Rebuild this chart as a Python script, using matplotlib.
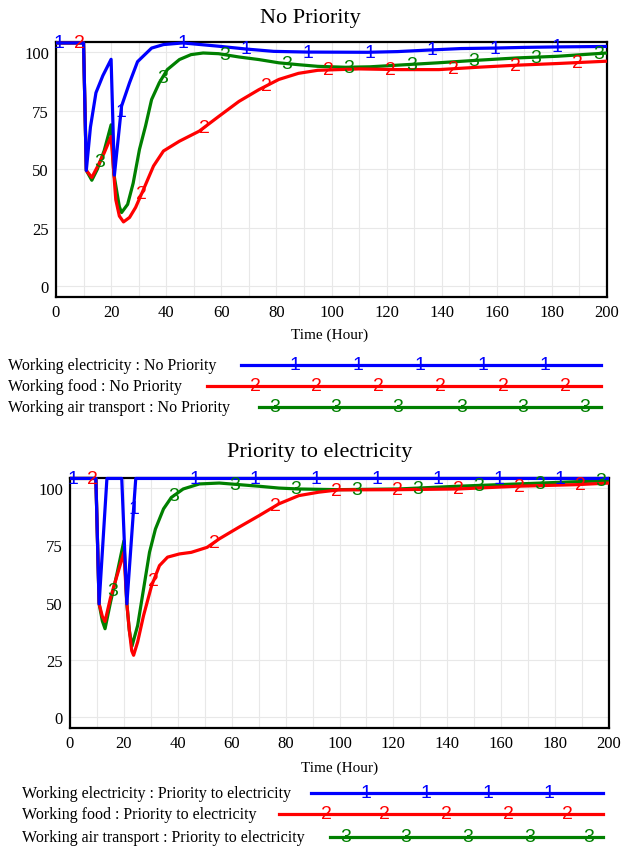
import matplotlib
matplotlib.use("Agg")
import numpy as np
import matplotlib.pyplot as plt
from matplotlib.lines import Line2D

# ---- data: Working fraction (%) vs Time (Hour) ----
# No Priority
np_elec_t = [0, 10, 11, 12.5, 14.5, 17, 20, 21.2, 23.8, 26.7, 29.6, 34.7, 39, 46, 59,
             69, 79, 91, 113, 124, 136, 147, 159, 170, 182, 200]
np_elec_y = [104, 104, 49.5, 68, 82.7, 90, 97, 47.5, 77, 87, 96, 101.8, 103.3, 104, 102.6,
             101.4, 100.4, 100.1, 100, 100.3, 101, 101.6, 101.8, 102.1, 102.3, 102.5]

np_food_t = [0, 10, 11, 13, 15, 17.5, 20, 21, 21.7, 23, 24.5, 26.7, 28.9, 31.8, 35.4, 39,
             44.8, 52, 59.2, 66.4, 73.6, 80.9, 88, 95, 110, 124, 139, 153, 167.5, 182, 200]
np_food_y = [104, 104, 49.5, 46.5, 51, 57, 64, 48, 37, 30, 27.5, 29.4, 33.7, 41.5, 51.4, 57.8,
             62, 66.3, 72.7, 79, 84, 88.4, 91, 92.3, 92.9, 92.6, 92.6, 93.6, 94.5, 95.2, 96.2]

np_air_t = [0, 10, 11, 13, 15, 17.5, 20, 21, 21.7, 23, 23.8, 26, 28, 30.3, 32.5, 34.7, 37.5,
            40.4, 44.8, 49, 53.4, 59, 66.4, 73.6, 80.9, 88, 95, 105, 114, 124, 138.6, 153,
            167.5, 182, 200]
np_air_y = [104, 104, 49.5, 45.3, 50, 58, 69, 48, 43, 34, 31.5, 35, 44, 58.5, 68.5, 79.8, 87,
            92.6, 96.9, 99, 99.7, 99.4, 98, 96.9, 95.5, 94.7, 94, 93.6, 93.8, 94.5, 95.5, 96.6,
            97.6, 98.3, 99.7]

# Priority to electricity
pe_elec_t = [0, 9.6, 10.8, 13.7, 19.2, 21.1, 24.4, 50, 100, 150, 200]
pe_elec_y = [104.3, 104.3, 49.5, 104.3, 104.3, 49.5, 104.3, 104.3, 104.3, 104.3, 104.3]

pe_food_t = [0, 9.6, 10.8, 12, 13, 15, 17.5, 20, 21.1, 22, 22.9, 23.6, 25.1, 27.3, 30.3, 33.2,
             36.2, 40.6, 45, 50.9, 55.4, 62.7, 70.1, 77.5, 84.9, 92.3, 99.6, 121.8, 143.9,
             166, 188.2, 200]
pe_food_y = [104.3, 104.3, 49.5, 44, 41.8, 52, 62, 72, 49.5, 38, 29, 27, 32.8, 44.4, 57.5, 66.2,
             69.9, 71.3, 72, 74.2, 77.9, 83, 88, 93.2, 96.8, 98.3, 99.3, 99.4, 99.7, 100.9,
             101.6, 102.3]

pe_air_t = [0, 9.6, 10.8, 12, 13, 15, 17.5, 20, 21.1, 22, 23, 25.1, 27.3, 29.5, 31.7, 34.7,
            37.6, 42, 48, 55.4, 62.7, 70.1, 77.5, 84.9, 99.6, 121.8, 143.9, 166, 188.2, 200]
pe_air_y = [104.3, 104.3, 49.5, 42, 38.6, 50, 63, 77, 49.5, 38, 31, 40, 56, 72, 82.2, 91, 96,
            99.7, 101.9, 102.3, 101.6, 100.9, 100.1, 99.7, 99.4, 99.7, 100.9, 101.9, 102.9,
            103.3]

series_names = ["Working electricity", "Working food", "Working air transport"]
colors = ["#0000ff", "#ff0000", "#008000"]
digits = ["1", "2", "3"]

W, H = 621, 854
SERIF = "Liberation Serif"
SANS = "Liberation Sans"

fig = plt.figure(figsize=(W / 100, H / 100), dpi=100)


def fx(x):
    return x / W


def fy(y):
    return 1 - y / H


def panel(box, title, title_xy, xlabel_xy, data, ylim):
    left, top, right, bottom = box
    ax = fig.add_axes([fx(left), fy(bottom), fx(right - left), (bottom - top) / H])
    # draw green, red, then blue on top
    for i in [2, 1, 0]:
        t, y = data[i]
        ax.plot(t, y, color=colors[i], lw=2.3, solid_capstyle="butt", zorder=3 + (2 - i),
                clip_on=False)
        # Vensim style number markers along the line
        for tm in np.arange([1, 8.5, 16][i], 200, 22.6):
            ax.text(tm, np.interp(tm, t, y), digits[i], color=colors[i], fontsize=14,
                    family=SANS, ha="center", va="center", zorder=6)
    ax.set_xlim(0, 200)
    ax.set_ylim(*ylim)
    ax.set_xticks(np.arange(0, 201, 20))
    ax.set_xticks(np.arange(0, 201, 10), minor=True)
    ax.set_yticks([0, 25, 50, 75, 100])
    ax.grid(True, which="both", axis="x", color="#e8e8e8", lw=0.8, zorder=0)
    ax.grid(True, which="major", axis="y", color="#e8e8e8", lw=0.8, zorder=0)
    ax.tick_params(which="both", length=0, labelsize=12, pad=5)
    for lab in ax.get_xticklabels() + ax.get_yticklabels():
        lab.set_family(SERIF)
    for s in ax.spines.values():
        s.set_linewidth(1.6)
    fig.text(fx(title_xy[0]), fy(title_xy[1]), title, family=SERIF, fontsize=16,
             ha="center", va="center")
    fig.text(fx(xlabel_xy[0]), fy(xlabel_xy[1]), "Time (Hour)", family=SERIF, fontsize=11,
             ha="center", va="center")
    return ax


def legend(scenario, x0, rows):
    for i, (ly, lx0, lx1, marks) in enumerate(rows):
        fig.text(fx(x0), fy(ly), f"{series_names[i]} : {scenario}", family=SERIF,
                 fontsize=11.5, ha="left", va="center")
        fig.add_artist(Line2D([fx(lx0), fx(lx1)], [fy(ly), fy(ly)], color=colors[i],
                              lw=2.3, transform=fig.transFigure))
        for mx in marks:
            fig.text(fx(mx), fy(ly), digits[i], color=colors[i], fontsize=14, family=SANS,
                     ha="center", va="center")


panel((56, 43, 607, 298), "No Priority", (310, 18), (330, 335),
      [(np_elec_t, np_elec_y), (np_food_t, np_food_y), (np_air_t, np_air_y)], (-4.6, 104.4))
legend("No Priority", 8, [
    (366, 241, 601, [295, 358, 420, 483, 545]),
    (387, 207, 601, [255, 316, 378, 440, 503, 565]),
    (408, 259, 601, [275, 336, 398, 462, 523, 585]),
])

panel((70, 479, 609, 729), "Priority to electricity", (320, 453), (340, 768),
      [(pe_elec_t, pe_elec_y), (pe_food_t, pe_food_y), (pe_air_t, pe_air_y)], (-4.8, 104.5))
legend("Priority to electricity", 22, [
    (794, 311, 603, [366, 426, 488, 549]),
    (815, 279, 603, [326, 384, 446, 508, 567]),
    (838, 330, 603, [346, 406, 468, 530, 589]),
])

fig.savefig("out.png", dpi=100)
